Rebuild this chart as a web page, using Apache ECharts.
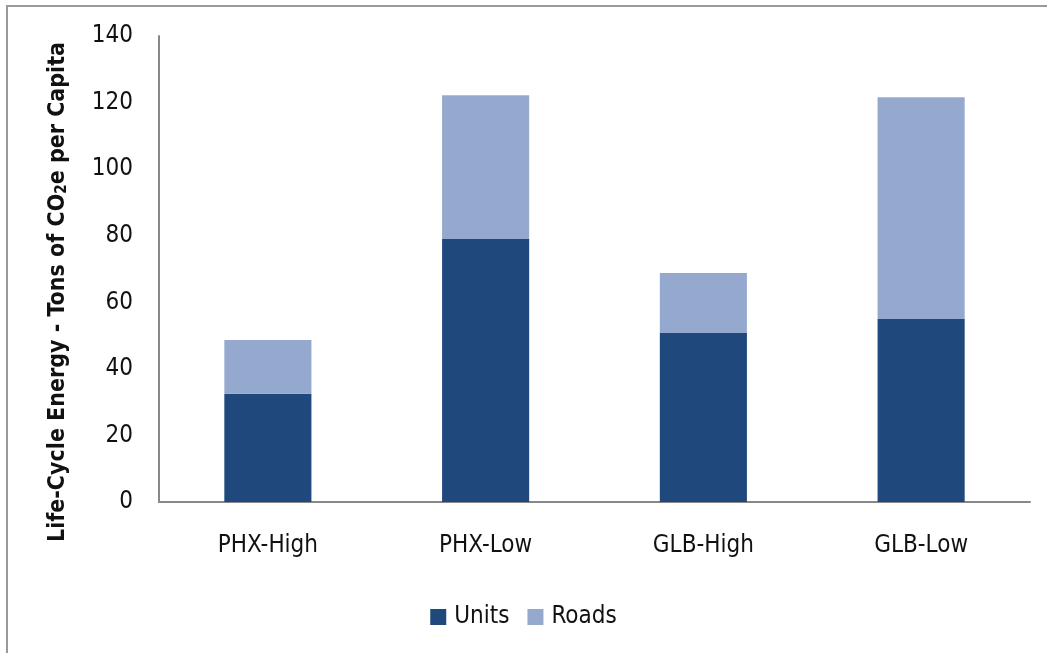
<!DOCTYPE html>
<html>
<head>
<meta charset="utf-8">
<script src="https://cdn.jsdelivr.net/npm/echarts@6/dist/echarts.min.js"></script>
<style>
  html, body { margin: 0; padding: 0; background: #fff; }
  #frame { position: absolute; left: 6px; top: 5px; width: 1045px; height: 652px;
           border-left: 2px solid #999; border-top: 2px solid #999; }
  #main { position: absolute; left: -8px; top: -7px; width: 1047px; height: 653px; }
</style>
</head>
<body>
<div id="frame"><div id="main"></div></div>
<script>
const categories = ['PHX-High', 'PHX-Low', 'GLB-High', 'GLB-Low'];
const units = [32.5, 79, 50.8, 55];
const roads = [16.2, 43.2, 18, 66.6];
const yTicks = [0, 20, 40, 60, 80, 100, 120, 140];

(function () {
    let myChart = echarts.init(document.getElementById('main'));
    const font = '"DejaVu Sans Condensed", "Liberation Sans Narrow", "Arial Narrow", sans-serif';
    let option = {
        animation: false,
        textStyle: { fontFamily: font },
        grid: { left: 159, right: 17, top: 36, bottom: 151, containLabel: false },
        legend: {
            bottom: 19,
            left: 'center',
            itemWidth: 16,
            itemHeight: 16,
            itemGap: 18,
            icon: 'rect',
            textStyle: { fontSize: 24, color: '#111', fontFamily: font, padding: [0, 0, 0, 3] },
            data: ['Units', 'Roads']
        },
        xAxis: {
            type: 'category',
            data: categories,
            axisLine: { lineStyle: { color: '#888', width: 2 } },
            axisTick: { show: false },
            axisLabel: { fontSize: 24, color: '#111', margin: 32, fontFamily: font }
        },
        yAxis: {
            type: 'value',
            min: yTicks[0],
            max: yTicks[yTicks.length - 1],
            interval: 20,
            name: 'Life-Cycle Energy - Tons of CO{sub|2}e per Capita',
            nameLocation: 'middle',
            nameGap: 89,
            nameRotate: 90,
            nameTextStyle: {
                fontSize: 23, fontWeight: 'bold', color: '#111', fontFamily: font,
                padding: [0, 46, 0, 0],
                rich: {
                    sub: { fontSize: 15, fontWeight: 'bold', verticalAlign: 'bottom', padding: [9, 0, 0, 0], fontFamily: font }
                }
            },
            axisLine: { show: true, lineStyle: { color: '#888', width: 2 } },
            axisTick: { show: false },
            splitLine: { show: false },
            axisLabel: { fontSize: 24, color: '#111', margin: 26, fontFamily: font }
        },
        series: [
            {
                name: 'Units',
                type: 'bar',
                stack: 'total',
                barWidth: '40%',
                itemStyle: { color: '#1F497D' },
                data: units
            },
            {
                name: 'Roads',
                type: 'bar',
                stack: 'total',
                barWidth: '40%',
                itemStyle: { color: '#95A9CF' },
                data: roads
            }
        ]
    };
    myChart.setOption(option);
    window.addEventListener('resize', function () {
        myChart.resize();
    });
})();
</script>
</body>
</html>
